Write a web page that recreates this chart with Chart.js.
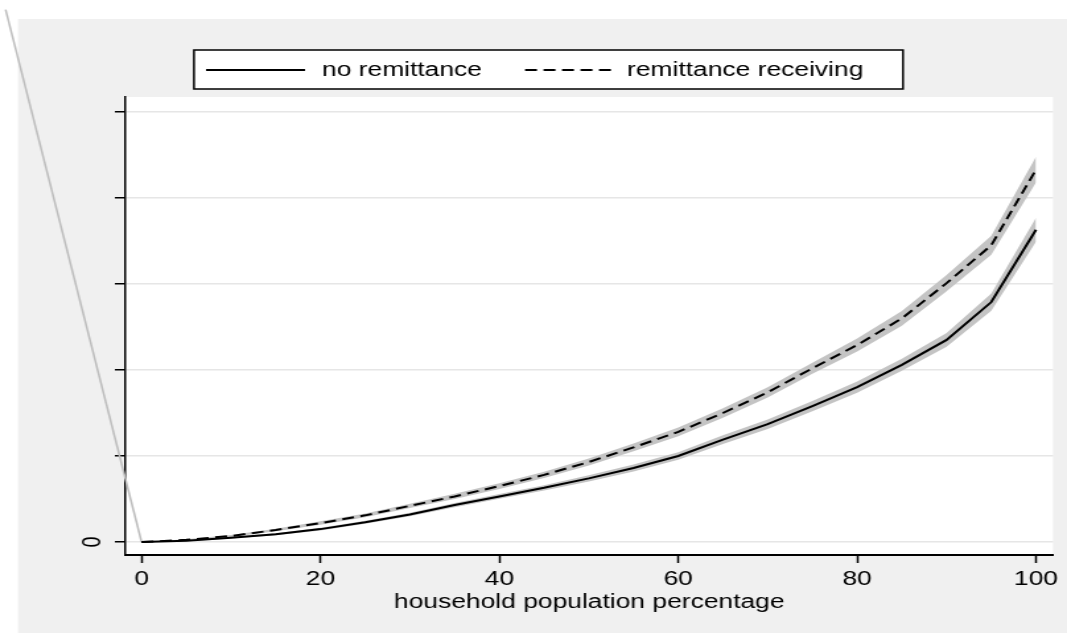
<!DOCTYPE html>
<html>
<head>
<meta charset="utf-8">
<script src="https://cdn.jsdelivr.net/npm/chart.js@4.4.0/dist/chart.umd.min.js"></script>
<style>
  html, body { margin: 0; padding: 0; background: #fff; }
</style>
</head>
<body>
<!-- the source picture is stretched sideways, so the canvas is too -->
<canvas id="c" width="808" height="633" style="display:block;width:1067px;height:633px"></canvas>
<script>
// household population percentage at each estimate
const pct = [0, 5, 10, 15, 20, 25, 30, 35, 40, 45, 50, 55, 60, 65, 70, 75, 80, 85, 90, 95, 100];
const noRemittance = [0, 0.015, 0.05, 0.09, 0.15, 0.23, 0.32, 0.43, 0.53, 0.63, 0.74, 0.86, 1.00, 1.19, 1.37, 1.58, 1.80, 2.06, 2.35, 2.79, 3.63];
const remittance   = [0, 0.025, 0.07, 0.14, 0.22, 0.31, 0.42, 0.53, 0.65, 0.78, 0.93, 1.10, 1.28, 1.50, 1.74, 2.02, 2.29, 2.60, 3.01, 3.45, 4.33];
// half width of the gray confidence bands
const noRemittanceCI = [0, 0.005, 0.01, 0.012, 0.015, 0.018, 0.02, 0.025, 0.028, 0.03, 0.035, 0.04, 0.045, 0.05, 0.055, 0.06, 0.065, 0.07, 0.08, 0.10, 0.14];
const remittanceCI   = [0, 0.006, 0.012, 0.015, 0.02, 0.022, 0.025, 0.03, 0.033, 0.037, 0.04, 0.045, 0.05, 0.055, 0.06, 0.065, 0.075, 0.085, 0.095, 0.11, 0.15];
const seriesLabels = ['no remittance', 'remittance receiving'];
const xTicks = [0, 20, 40, 60, 80, 100];
const yTicks = [0, 1, 2, 3, 4, 5];
// stray band outline that runs off to the top left
const strayX = [0, -15.2];
const strayY = [0, 6.19];

const FONT = '"Liberation Sans", Arial, sans-serif';
const DASH = [9, 5];
const pts = (ys, d, sign) => pct.map((x, i) => ({ x: x, y: ys[i] + (d ? sign * d[i] : 0) }));

const lineStyle = { pointRadius: 0, tension: 0, fill: false };

const bgPlugin = {
  id: 'stataBg',
  beforeDraw(chart) {
    const { ctx, chartArea: a } = chart;
    ctx.save();
    ctx.fillStyle = '#f0f0f0';
    ctx.fillRect(13.6, 19, chart.width - 13.6, chart.height - 19);
    ctx.fillStyle = '#fff';
    ctx.fillRect(a.left, a.top, a.right - a.left, a.bottom - a.top);
    ctx.restore();
  },
  afterDraw(chart) {
    const ctx = chart.ctx;
    ctx.save();
    // legend box
    ctx.fillStyle = '#fff';
    ctx.fillRect(146.9, 50, 536.9, 39);
    ctx.strokeStyle = '#000';
    ctx.lineWidth = 1.5;
    ctx.strokeRect(146.9, 50, 536.9, 39);
    ctx.lineWidth = 2;
    ctx.beginPath();
    ctx.moveTo(156, 70); ctx.lineTo(231, 70);
    ctx.stroke();
    ctx.setLineDash(DASH);
    ctx.beginPath();
    ctx.moveTo(397.6, 70); ctx.lineTo(463.5, 70);
    ctx.stroke();
    ctx.setLineDash([]);
    ctx.fillStyle = '#000';
    ctx.font = '20px ' + FONT;
    ctx.textBaseline = 'middle';
    ctx.fillText(seriesLabels[0], 243.8, 70);
    ctx.fillText(seriesLabels[1], 474.8, 70);
    ctx.restore();
  }
};

new Chart(document.getElementById('c'), {
  type: 'line',
  data: {
    datasets: [
      { label: seriesLabels[0], data: pts(noRemittance), borderColor: '#000', borderWidth: 2, order: 0, ...lineStyle },
      { label: seriesLabels[1], data: pts(remittance), borderColor: '#000', borderWidth: 2, borderDash: DASH, order: 0, ...lineStyle },
      { label: 'lo1', data: pts(noRemittance, noRemittanceCI, -1), borderWidth: 0, order: 1, ...lineStyle },
      { label: 'hi1', data: pts(noRemittance, noRemittanceCI, 1), borderWidth: 0, order: 1, pointRadius: 0, tension: 0, fill: 2, backgroundColor: '#c4c4c4' },
      { label: 'lo2', data: pts(remittance, remittanceCI, -1), borderWidth: 0, order: 1, ...lineStyle },
      { label: 'hi2', data: pts(remittance, remittanceCI, 1), borderWidth: 0, order: 1, pointRadius: 0, tension: 0, fill: 4, backgroundColor: '#c4c4c4' },
      { label: 'stray', data: strayX.map((x, i) => ({ x: x, y: strayY[i] })), borderColor: '#bdbdbd', borderWidth: 1.5, order: 2, clip: false, ...lineStyle }
    ]
  },
  options: {
    responsive: false,
    animation: false,
    events: [],
    layout: { padding: { top: 97, left: 0, right: 10.6, bottom: 0 } },
    plugins: { legend: { display: false }, tooltip: { enabled: false } },
    scales: {
      x: {
        type: 'linear',
        min: -1.8,
        max: 101.9,
        afterBuildTicks: s => { s.ticks = xTicks.map(v => ({ value: v })); },
        afterFit: s => { s.height = 78; },
        grid: { color: 'rgba(0,0,0,0)', tickColor: '#000', tickLength: 8, tickWidth: 1.5 },
        border: { color: '#000', width: 2 },
        ticks: { color: '#000', font: { family: FONT, size: 20 }, padding: 4, maxRotation: 0 },
        title: { display: true, text: 'household population percentage', color: '#000', font: { family: FONT, size: 20 }, padding: { top: 0, bottom: 19 } }
      },
      y: {
        type: 'linear',
        min: -0.151,
        max: 5.174,
        afterBuildTicks: s => { s.ticks = yTicks.map(v => ({ value: v })); },
        afterFit: s => { s.width = 95; },
        grid: { color: '#e6e6e6', lineWidth: 1.5, tickColor: '#000', tickLength: 8, tickWidth: 1.5 },
        border: { color: '#000', width: 1.5 },
        ticks: {
          color: '#000',
          font: { family: FONT, size: 20 },
          minRotation: 90,
          maxRotation: 90,
          crossAlign: 'center',
          padding: 11,
          callback: v => (v === 0 ? '0' : '')
        }
      }
    }
  },
  plugins: [bgPlugin]
});
</script>
</body>
</html>
